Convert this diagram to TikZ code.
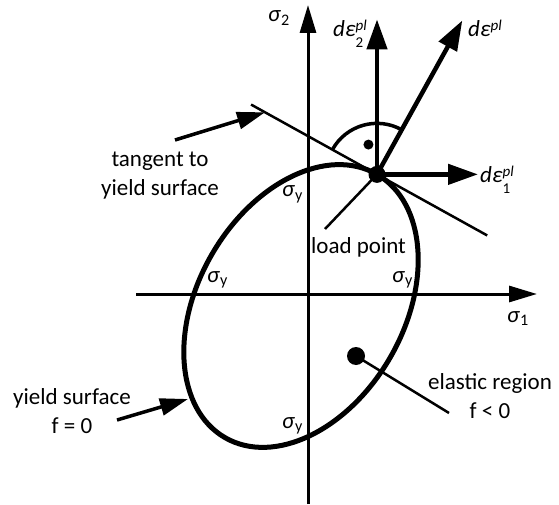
\documentclass[tikz,border=0pt]{standalone}
\usepackage{fontspec}
\setmainfont{Carlito}
\usetikzlibrary{arrows.meta,calc}
\tikzset{
  axis/.style={line width=3pt,-{Triangle[length=28pt,width=16pt]}},
  yieldcurve/.style={line width=5pt},
  thinline/.style={line width=2.5pt},
  anglearc/.style={line width=3.5pt},
  strainarrow/.style={line width=4.5pt,-{Triangle[length=30pt,width=20pt]}},
  pointer/.style={line width=3.5pt,-{Triangle[length=28pt,width=17pt]}},
  lbl/.style={inner sep=0pt,font=\fontsize{23}{29}\selectfont},
  dotnode/.style={circle,fill=black,draw=none,inner sep=0pt},
}
\newcommand{\supsubtxt}[2]{\rlap{\raisebox{6pt}{\fontsize{15}{15}\selectfont\itshape #1}}\raisebox{-11pt}{\fontsize{15}{15}\selectfont #2}}
\newcommand{\suptxt}[1]{\raisebox{6pt}{\fontsize{15}{15}\selectfont\itshape #1}}
\begin{document}
\begin{tikzpicture}[x=1pt,y=1pt]
\useasboundingbox (0,0) rectangle (559,504);
% axes
\coordinate (axB) at (308,0);
\coordinate (axT) at (308,499);
\coordinate (axL) at (136,210);
\coordinate (axR) at (537,210);
\draw[axis] (axB) -- (axT);
\draw[axis] (axL) -- (axR);
% yield surface
\coordinate (C) at (301,198);
\draw[yieldcurve, rotate around={60:(C)}] (C) ellipse [x radius=152pt, y radius=103pt];
\coordinate (LP) at ($(C)+(60:152pt)$);
% tangent line
\coordinate (TA) at ($(LP)+(151:144pt)$);
\coordinate (TB) at ($(LP)+(-29:126pt)$);
\draw[thinline] (TA) -- (TB);
% right angle marker
\draw[anglearc] ($(LP)+(61:51pt)$) arc[start angle=61, end angle=151, radius=51pt];
\node[dotnode, minimum size=10pt] (ra) at ($(LP)+(106:31pt)$) {};
% load point leader
\coordinate (lpE) at (325,275);
\draw[thinline] (LP) -- (lpE);
% strain increments
\coordinate (E2) at ($(LP)+(0,155pt)$);
\coordinate (E) at ($(LP)+(61:176pt)$);
\coordinate (E1) at ($(LP)+(101pt,0)$);
\draw[strainarrow] (LP) -- (E2);
\draw[strainarrow] (LP) -- (E);
\draw[strainarrow] (LP) -- (E1);
\node[dotnode, minimum size=17pt] (lp) at (LP) {};
% elastic point
\node[dotnode, minimum size=18pt] (ed) at (356,148) {};
\coordinate (elE) at (449,91);
\draw[thinline] (ed.center) -- (elE);
% pointers
\coordinate (tanS) at (175,364);
\coordinate (tanP) at ($(LP)+(151:128pt)$);
\draw[pointer] (tanS) -- (tanP);
\coordinate (ysS) at (117,84);
\coordinate (ysP) at (188,105);
\draw[pointer] (ysS) -- (ysP);
% labels
\node[lbl, anchor=base west] (ls2) at (268,482) {\textit{σ}\textsubscript{2}};
\node[lbl, anchor=base west] (ls1) at (507,182) {\textit{σ}\textsubscript{1}};
\node[lbl, anchor=base west] (lsyT) at (282,307) {\textit{σ}\textsubscript{y}};
\node[lbl, anchor=base west] (lsyL) at (207,222) {\textit{σ}\textsubscript{y}};
\node[lbl, anchor=base west] (lsyR) at (392,222) {\textit{σ}\textsubscript{y}};
\node[lbl, anchor=base west] (lsyB) at (282,76) {\textit{σ}\textsubscript{y}};
\node[lbl, anchor=base west] (le2) at (333,467) {\textit{dε}\supsubtxt{pl}{2}};
\node[lbl, anchor=base west] (le) at (468,467) {\textit{dε}\suptxt{pl}};
\node[lbl, anchor=base west] (le1) at (480,321) {\textit{dε}\supsubtxt{pl}{1}};
\node[lbl, anchor=base west] (lload) at (311,251) {load point};
\node[lbl, align=center] (ltan) at (160,328) {tangent to\\yield surface};
\node[lbl, align=center] (lys) at (72,93) {yield surface\\f = 0};
\node[lbl, align=center] (lel) at (490,108) {elastic region\\f < 0};
\end{tikzpicture}
\end{document}
